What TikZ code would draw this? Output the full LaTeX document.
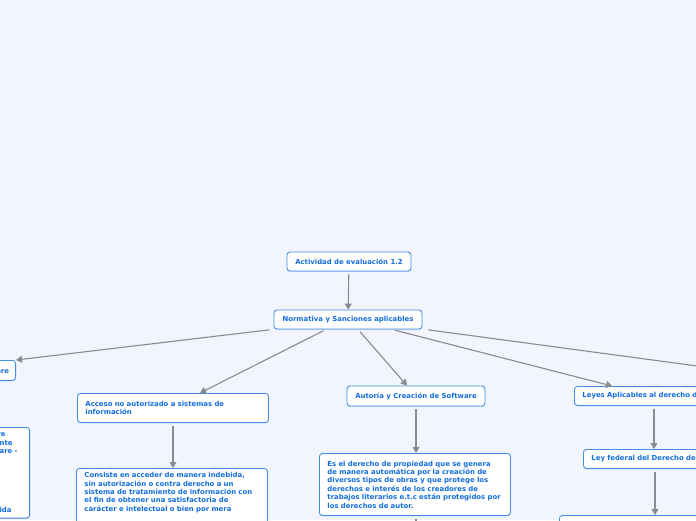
\documentclass[tikz,border=0pt]{standalone}
\usepackage{fontspec}
\setmainfont{DejaVu Sans}
\usetikzlibrary{arrows.meta,shadows}
\definecolor{fondo}{RGB}{242,245,253}
\definecolor{borde}{RGB}{66,141,230}
\definecolor{texto}{RGB}{20,110,220}
\definecolor{flecha}{RGB}{138,138,145}
\begin{document}
\begin{tikzpicture}[x=1pt,y=-1pt,
    caja/.style={draw=borde, fill=white, rounded corners=3pt, line width=0.9pt,
      text=texto, font=\fontsize{6.9}{8.4}\selectfont\bfseries,
      inner xsep=8pt, inner ysep=4pt,
      drop shadow={shadow xshift=0pt, shadow yshift=-0.8pt, opacity=0.3, fill=borde}},
    linea/.style={draw=flecha, line width=1.1pt, -{Triangle[width=7pt,length=6pt]}, shorten <=3pt}]
    \useasboundingbox (0,0) rectangle (696,520);
    \clip (0,0) rectangle (696,520);
    \fill[fondo] (0,0) rectangle (696,520);

    \node[caja, minimum width=124pt, minimum height=19pt] (act) at (349,261.5) {Actividad de evaluación 1.2};
    \node[caja, minimum width=148pt, minimum height=19pt] (norm) at (348,319.5) {Normativa y Sanciones aplicables};

    % rama izquierda
    \node[caja, anchor=north east, minimum height=20pt, inner xsep=6.5pt] (pira) at (16,360) {Piratería de Software};
    \node[caja, anchor=north east, text width=250pt, align=right] (pirad) at (30,427)
        {Es la copia, distribución o uso ilegal de software\rule{16pt}{0pt}\\
         sin la licencia o el permiso correspondiente\rule{9pt}{0pt}\\
         del titular de los derechos del software -\rule{4pt}{0pt}\\
         \mbox{}\\ \mbox{}\\ \mbox{}\\ \mbox{}\\ \mbox{}\\ \mbox{}\\
         con la instalación del programa de manera indebida\rule{10pt}{0pt}};
    \node[caja, anchor=north west, text width=175pt, minimum height=29pt, align=left] (acc) at (77,393)
        {Acceso no autorizado a sistemas de\\información};
    \node[caja, anchor=north west, text width=175pt, align=left] (accd) at (76,468)
        {Consiste en acceder de manera indebida,\\
         sin autorización o contra derecho a un\\
         sistema de tratamiento de información con\\
         el fin de obtener una satisfactoria de\\
         carácter e intelectual o bien por mera\\
         \mbox{}\\ \mbox{}};

    % rama central
    \node[caja, minimum width=138pt, minimum height=20pt] (aut) at (416,396) {Autoría y Creación de Software};
    \node[caja, anchor=north west, text width=175pt, minimum height=62pt, align=left] (autd) at (319,453)
        {Es el derecho de propiedad que se genera\\
         de manera automática por la creación de\\
         diversos tipos de obras y que protege los\\
         derechos e interés de los creadores de\\
         trabajos literarios e.t.c están protegidos por\\
         los derechos de autor.};

    % rama derecha
    \node[caja, anchor=north west, text width=170pt, minimum height=19pt, align=left] (ley) at (574,386) {Leyes Aplicables al derecho de Autor};
    \node[caja, anchor=north west, text width=170pt, minimum height=19pt, align=left] (lfd) at (583,449) {Ley federal del Derecho de Autor};
    \node[caja, anchor=north west, minimum width=200pt, minimum height=30pt] (lfdd) at (559,515) {};

    \coordinate (sig) at (712,368);
    \coordinate (abajo) at (416,535);

    \draw[linea] (act) -- (norm);
    \draw[linea] ([xshift=-1pt]norm.south west) -- (pira.north east);
    \draw[linea] ([xshift=-22pt]norm.south) -- ([xshift=27pt]acc.north);
    \draw[linea] ([xshift=10pt]norm.south) -- ([xshift=-9pt]aut.north);
    \draw[linea] ([xshift=44pt]norm.south) -- ([xshift=38pt]ley.north west);
    \draw[linea] ([xshift=3pt]norm.south east) -- (sig);
    \draw[linea] (acc.south) -- (acc.south |- accd.north);
    \draw[linea] (aut.south) -- (aut.south |- autd.north);
    \draw[draw=flecha, line width=1.1pt, shorten <=3pt] (aut.south |- autd.south) -- (abajo);
    \draw[linea] ([xshift=80pt]ley.south west) -- ([xshift=80pt]ley.south west |- lfd.north);
    \draw[linea] ([xshift=72pt]lfd.south west) -- ([xshift=72pt]lfd.south west |- lfdd.north);
\end{tikzpicture}
\end{document}
